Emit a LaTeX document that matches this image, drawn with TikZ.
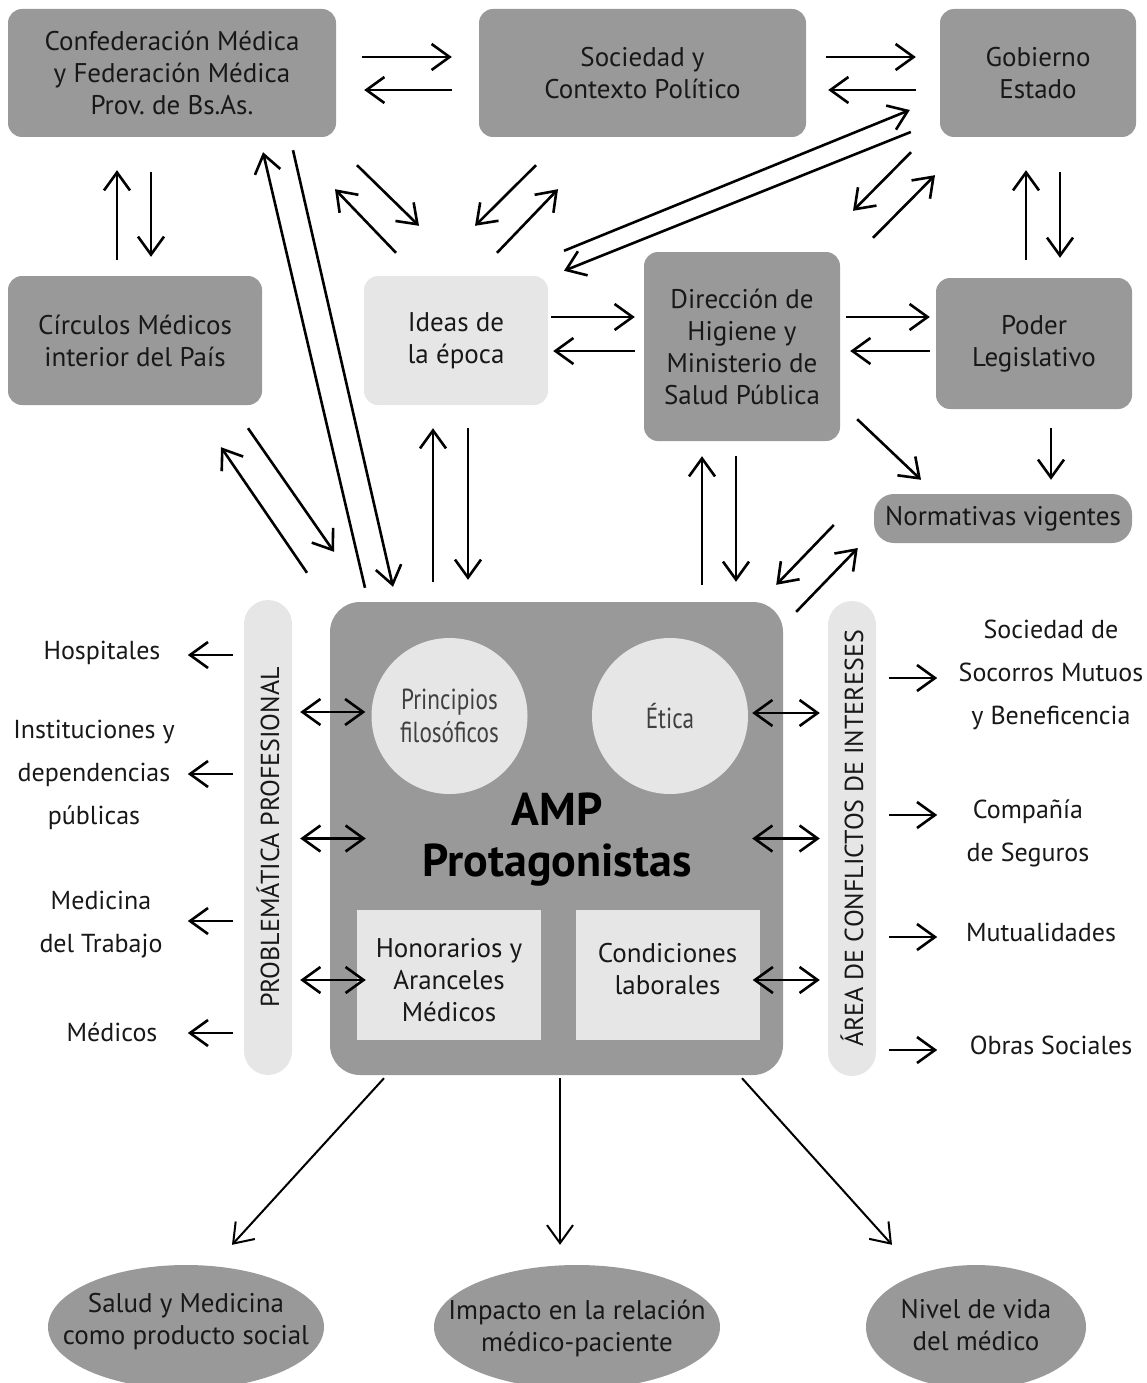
\documentclass[tikz,border=0pt]{standalone}
\usepackage{fontspec}
\setmainfont{PT Sans}
\newfontfamily\narrowfont[FakeStretch=0.8]{PT Sans}
\usetikzlibrary{arrows.meta,calc,shapes.geometric}

\definecolor{boxdark}{RGB}{153,153,153}
\definecolor{boxlight}{RGB}{230,230,230}
\definecolor{inkgray}{RGB}{24,24,24}

\begin{document}
\begin{tikzpicture}[x=1pt, y=-1pt,
    every node/.style={text=inkgray, inner sep=0pt, align=center},
    box/.style={fill=boxdark, rounded corners=14pt, font=\fontsize{27}{32}\selectfont},
    lightbox/.style={box, fill=boxlight},
    inner/.style={fill=boxlight, minimum width=184pt, minimum height=130pt},
    innertext/.style={font=\fontsize{27}{32}\selectfont},
    disc/.style={circle, fill=boxlight, minimum size=156pt, text=black!75, font=\narrowfont\fontsize{29}{33}\selectfont},
    bar/.style={fill=boxlight, rounded corners=24pt, minimum width=48pt, minimum height=475pt},
    bartext/.style={rotate=90, font=\fontsize{26}{30}\selectfont},
    sidelabel/.style={font=\fontsize{26}{43}\selectfont},
    result/.style={ellipse, fill=boxdark, minimum height=124pt},
    resulttext/.style={font=\fontsize{27}{32}\selectfont},
    arr/.style={-{Straight Barb[length=18pt,width=26pt]}, line width=2.6pt},
    dbl/.style={{Straight Barb[length=18pt,width=26pt]}-{Straight Barb[length=18pt,width=26pt]}, line width=2.6pt},
    thin/.style={arr, line width=2pt}]
    \useasboundingbox (0,0) rectangle (1146,1383);

    % top row
    \node[box, minimum width=328pt, minimum height=128pt] (confed) at (172,73) {Confederación Médica\\y Federación Médica\\Prov.\ de Bs.As.};
    \node[box, minimum width=327pt, minimum height=128pt] (soc) at (642.5,73) {Sociedad y\\Contexto Político};
    \node[box, minimum width=196pt, minimum height=128pt] (gob) at (1038,73) {Gobierno\\Estado};

    % second row
    \node[box, minimum width=254pt, minimum height=129pt] (circulos) at (135,340.5) {Círculos Médicos\\interior del País};
    \node[lightbox, minimum width=184pt, minimum height=129pt] (ideas) at (456,340.5) {Ideas de\\la época};
    \node[box, minimum width=196pt, minimum height=189pt] (dir) at (742,346.5) {Dirección de\\Higiene y\\Ministerio de\\Salud Pública};
    \node[box, minimum width=196pt, minimum height=131pt] (poder) at (1034,343.5) {Poder\\Legislativo};
    \node[box, rounded corners=20pt, minimum width=258pt, minimum height=49pt] (norm) at (1003,518.5) {Normativas vigentes};

    % central block
    \node[fill=boxdark, rounded corners=30pt, minimum width=453pt, minimum height=473pt] (amp) at (556.5,838.5) {};
    \node[disc] (princ) at (449.5,716) {Principios\\filosóficos};
    \node[disc] (etica) at (670,716) {Ética};
    \node[text=black, font=\bfseries\fontsize{46}{51}\selectfont] (amptxt) at (557,840) {AMP\\Protagonistas};
    \node[inner] (hon) at (449,975) {};
    \node[innertext] (hontxt) at (449,980) {Honorarios y\\Aranceles\\Médicos};
    \node[inner] (cond) at (667.5,975) {};
    \node[innertext] (condtxt) at (667.5,969) {Condiciones\\laborales};

    \node[bar] (probl) at (268,837.5) {};
    \node[bartext] (probltxt) at (probl) {PROBLEMÁTICA PROFESIONAL};
    \node[bar] (area) at (852,838.5) {};
    \node[bartext] (areatxt) at (area) {ÁREA DE CONFLICTOS DE INTERESES};

    % side labels
    \node[sidelabel] (hosp) at (102,653) {Hospitales};
    \node[sidelabel] (inst) at (94,775) {Instituciones y\\dependencias\\públicas};
    \node[sidelabel] (medtrab) at (101,925) {Medicina\\del Trabajo};
    \node[sidelabel] (medicos) at (112,1032) {Médicos};
    \node[sidelabel] (socorros) at (1051,675) {Sociedad de\\Socorros Mutuos\\y Beneficencia};
    \node[sidelabel] (seguros) at (1028,833) {Compañía\\de Seguros};
    \node[sidelabel] (mutual) at (1041,932) {Mutualidades};
    \node[sidelabel] (obras) at (1051,1045) {Obras Sociales};

    % bottom results
    \node[result, minimum width=276pt] (salud) at (186,1327) {};
    \node[resulttext] (saludtxt) at (186,1322) {Salud y Medicina\\como producto social};
    \node[result, minimum width=286pt] (impacto) at (577,1327) {};
    \node[resulttext] (impactotxt) at (577,1328) {Impacto en la relación\\médico-paciente};
    \node[result, minimum width=220pt] (nivel) at (976,1327) {};
    \node[resulttext] (niveltxt) at (976,1325) {Nivel de vida\\del médico};

    % top row arrows
    \draw[arr] ($(confed.east)+(26,-16)$) -- ($(soc.west)+(-27,-16)$);
    \draw[arr] ($(soc.west)+(-27,17)$) -- ($(confed.east)+(28,17)$);
    \draw[arr] ($(soc.east)+(20,-16)$) -- ($(gob.west)+(-24,-16)$);
    \draw[arr] ($(gob.west)+(-24,17)$) -- ($(soc.east)+(22,17)$);

    \draw[arr] ($(circulos.north)+(-18,-16)$) -- ($(confed.south)+(-55,33)$);
    \draw[arr] ($(confed.south)+(-21,35)$) -- ($(circulos.north)+(16,-19)$);
    \draw[arr] ($(poder.north)+(-8,-18)$) -- ($(gob.south)+(-12,33)$);
    \draw[arr] ($(gob.south)+(22,35)$) -- ($(poder.north)+(26,-20)$);

    % second row arrows
    \draw[arr] ($(ideas.east)+(3,-23.5)$) -- ($(dir.west)+(-9,-29.5)$);
    \draw[arr] ($(dir.west)+(-9,4.5)$) -- ($(ideas.east)+(5,10.5)$);
    \draw[arr] ($(dir.east)+(6,-29.5)$) -- ($(poder.west)+(-6,-26.5)$);
    \draw[arr] ($(poder.west)+(-6,7.5)$) -- ($(dir.east)+(10,4.5)$);

    % diagonals
    \draw[arr] ($(confed.south)+(185,28)$) -- ($(ideas.north)+(-37,-50)$);
    \draw[arr] ($(ideas.north)+(-60,-23)$) -- ($(confed.south)+(163,52)$);
    \draw[arr] ($(soc.south)+(-106.5,28)$) -- ($(ideas.north)+(19,-50)$);
    \draw[arr] ($(ideas.north)+(41,-23)$) -- ($(soc.south)+(-84.5,52)$);
    \draw[arr] ($(ideas.north)+(108,-25)$) -- ($(gob.west)+(-30,37)$);
    \draw[arr] ($(gob.west)+(-29,59)$) -- ($(ideas.north)+(108,-5)$);
    \draw[arr] ($(gob.south)+(-127,15)$) -- ($(dir.north)+(111,-41)$);
    \draw[arr] ($(dir.north)+(131,-14)$) -- ($(gob.south)+(-103,38)$);

    % towards the central block
    \draw[arr] ($(circulos.south)+(113,23)$) -- ($(amp.north)+(-222.5,-50)$);
    \draw[arr] ($(amp.north)+(-249.5,-29)$) -- ($(circulos.south)+(86,42)$);
    \draw[arr] ($(amp.north)+(-191.5,-14)$) -- ($(confed.south)+(91,15)$);
    \draw[arr] ($(confed.south)+(121,13)$) -- ($(amp.north)+(-163.5,-15)$);
    \draw[arr] ($(amp.north)+(-123.5,-20)$) -- ($(ideas.south)+(-23,23)$);
    \draw[arr] ($(ideas.south)+(12,23)$) -- ($(amp.north)+(-88.5,-22)$);
    \draw[arr] ($(amp.north)+(145.5,-17)$) -- ($(dir.south)+(-40,15)$);
    \draw[arr] ($(dir.south)+(-6,15)$) -- ($(amp.north)+(179.5,-20)$);
    \draw[arr] ($(dir.south east)+(17,-22)$) -- ($(norm.north)+(-82,-14)$);
    \draw[arr] ($(poder.south)+(17,19)$) -- ($(norm.north)+(48,-14)$);
    \draw[arr] ($(norm.west)+(-40,6.5)$) -- ($(amp.north east)+(-7,-17)$);
    \draw[arr] ($(amp.north east)+(13,10)$) -- ($(norm.west)+(-16,29.5)$);

    % side arrows
    \draw[arr] ($(probl.west |- hosp)+(-11,2)$) -- ($(probl.west |- hosp)+(-56,2)$);
    \draw[arr] ($(probl.west |- inst)+(-11,-1)$) -- ($(probl.west |- inst)+(-56,-1)$);
    \draw[arr] ($(probl.west |- medtrab)+(-11,-4)$) -- ($(probl.west |- medtrab)+(-56,-4)$);
    \draw[arr] ($(probl.west |- medicos)+(-11,1)$) -- ($(probl.west |- medicos)+(-56,1)$);
    \draw[arr] ($(area.east |- socorros)+(13,3)$) -- ($(area.east |- socorros)+(61,3)$);
    \draw[arr] ($(area.east |- seguros)+(13,-18)$) -- ($(area.east |- seguros)+(61,-18)$);
    \draw[arr] ($(area.east |- mutual)+(13,5)$) -- ($(area.east |- mutual)+(61,5)$);
    \draw[arr] ($(area.east |- obras)+(13,5)$) -- ($(area.east |- obras)+(61,5)$);

    \draw[dbl] ($(probl.east |- princ)+(8,-4)$) -- ($(princ.west)+(-6,-4)$);
    \draw[dbl] ($(probl.east |- amp)+(8,0)$) -- ($(amp.west)+(36,0)$);
    \draw[dbl] ($(probl.east |- hon)+(8,5)$) -- ($(hon.west)+(9,5)$);
    \draw[dbl] ($(etica.east)+(4,-3)$) -- ($(area.west |- etica)+(-8,-3)$);
    \draw[dbl] ($(amp.east)+(-31,0)$) -- ($(area.west |- amp)+(-8,0)$);
    \draw[dbl] ($(cond.east)+(-7,5)$) -- ($(area.west |- cond)+(-8,5)$);

    % results
    \draw[thin] ($(amp.south)+(-172.5,3)$) -- ($(salud.north)+(46,-20)$);
    \draw[thin] ($(amp.south)+(3.5,3)$) -- ($(impacto.north)+(-17,-20)$);
    \draw[thin] ($(amp.south)+(185.5,3)$) -- ($(nivel.north)+(-84,-20)$);
\end{tikzpicture}
\end{document}
